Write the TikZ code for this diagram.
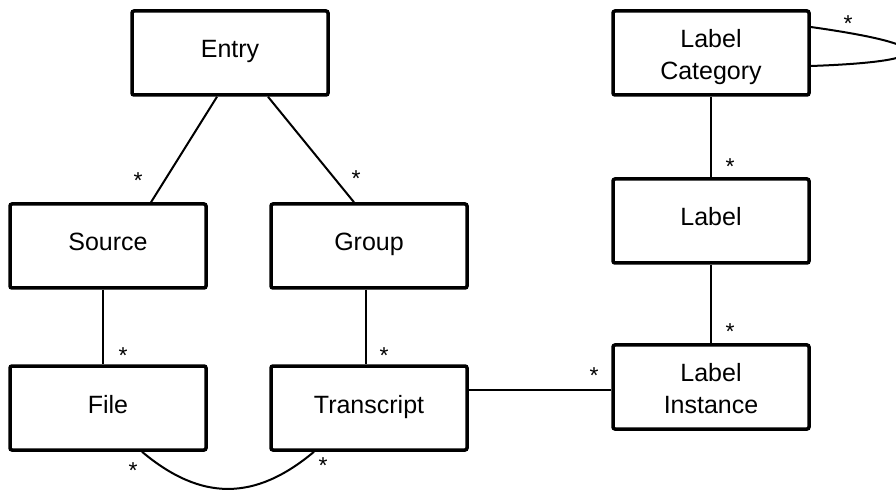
\documentclass[tikz,border=0pt]{standalone}
\usepackage{fontspec}
\setmainfont{Liberation Sans}
\usetikzlibrary{positioning,calc}

\begin{document}
\begin{tikzpicture}[x=1pt,y=1pt,
	entity/.style={shape=rectangle,draw,line width=3.5pt,rounded corners=2pt,
		minimum width=196pt,minimum height=84pt,align=center,
		text height=18pt,text depth=8pt,font=\fontsize{25}{32}\selectfont},
	entitytwo/.style={entity,text height=58pt,text depth=5pt},
	link/.style={line width=2pt},
	mult/.style={inner sep=0pt,font=\fontsize{23}{23}\selectfont}]
				\clip (0,0) rectangle (896,490);
				
				%nodes
				\draw (230,437) node [entity] (entry) {Entry};
				\draw (108,244) node [entity] (source) {Source};
				\draw (369,244) node [entity] (group) {Group};
				\draw (108,82) node [entity] (file) {File};
				\draw (369,82) node [entity] (transcript) {Transcript};
				\draw (711,437) node [entitytwo] (labelcat) {Label\\Category};
				\draw (711,269) node [entity] (label) {Label};
				\draw (711,103) node [entitytwo] (labelinst) {Label\\Instance};
				
				%lines
				\draw [link] ([xshift=-13]entry.south) to ([xshift=43]source.north);
				\draw [link] ([xshift=38]entry.south) to ([xshift=-15]group.north);
				\draw [link] ([xshift=-5]source.south) to ([xshift=-5]file.north);
				\draw [link] ([xshift=-3]group.south) to ([xshift=-3]transcript.north);
				\draw [link] ([xshift=34]file.south) to[out=-40,in=-140,looseness=1.15] ([xshift=-55]transcript.south);
				\draw [link] ([yshift=18]transcript.east) to ([yshift=-3]labelinst.west);
				\draw [link] (labelcat.south) to (label.north);
				\draw [link] (label.south) to (labelinst.north);
				\draw [link] ([yshift=26]labelcat.east) .. controls +(-8:130) and +(2:130) .. ([yshift=-13]labelcat.east);
				
				%labels
				\draw (138,309) node [mult] (m1) {*};
				\draw (356,311) node [mult] (m2) {*};
				\draw (123,134) node [mult] (m3) {*};
				\draw (384,134) node [mult] (m4) {*};
				\draw (133,19) node [mult] (m5) {*};
				\draw (323,24) node [mult] (m6) {*};
				\draw (594,114) node [mult] (m7) {*};
				\draw (730,158) node [mult] (m8) {*};
				\draw (730,323) node [mult] (m9) {*};
				\draw (848,466) node [mult] (m10) {*};
\end{tikzpicture}
\end{document}
